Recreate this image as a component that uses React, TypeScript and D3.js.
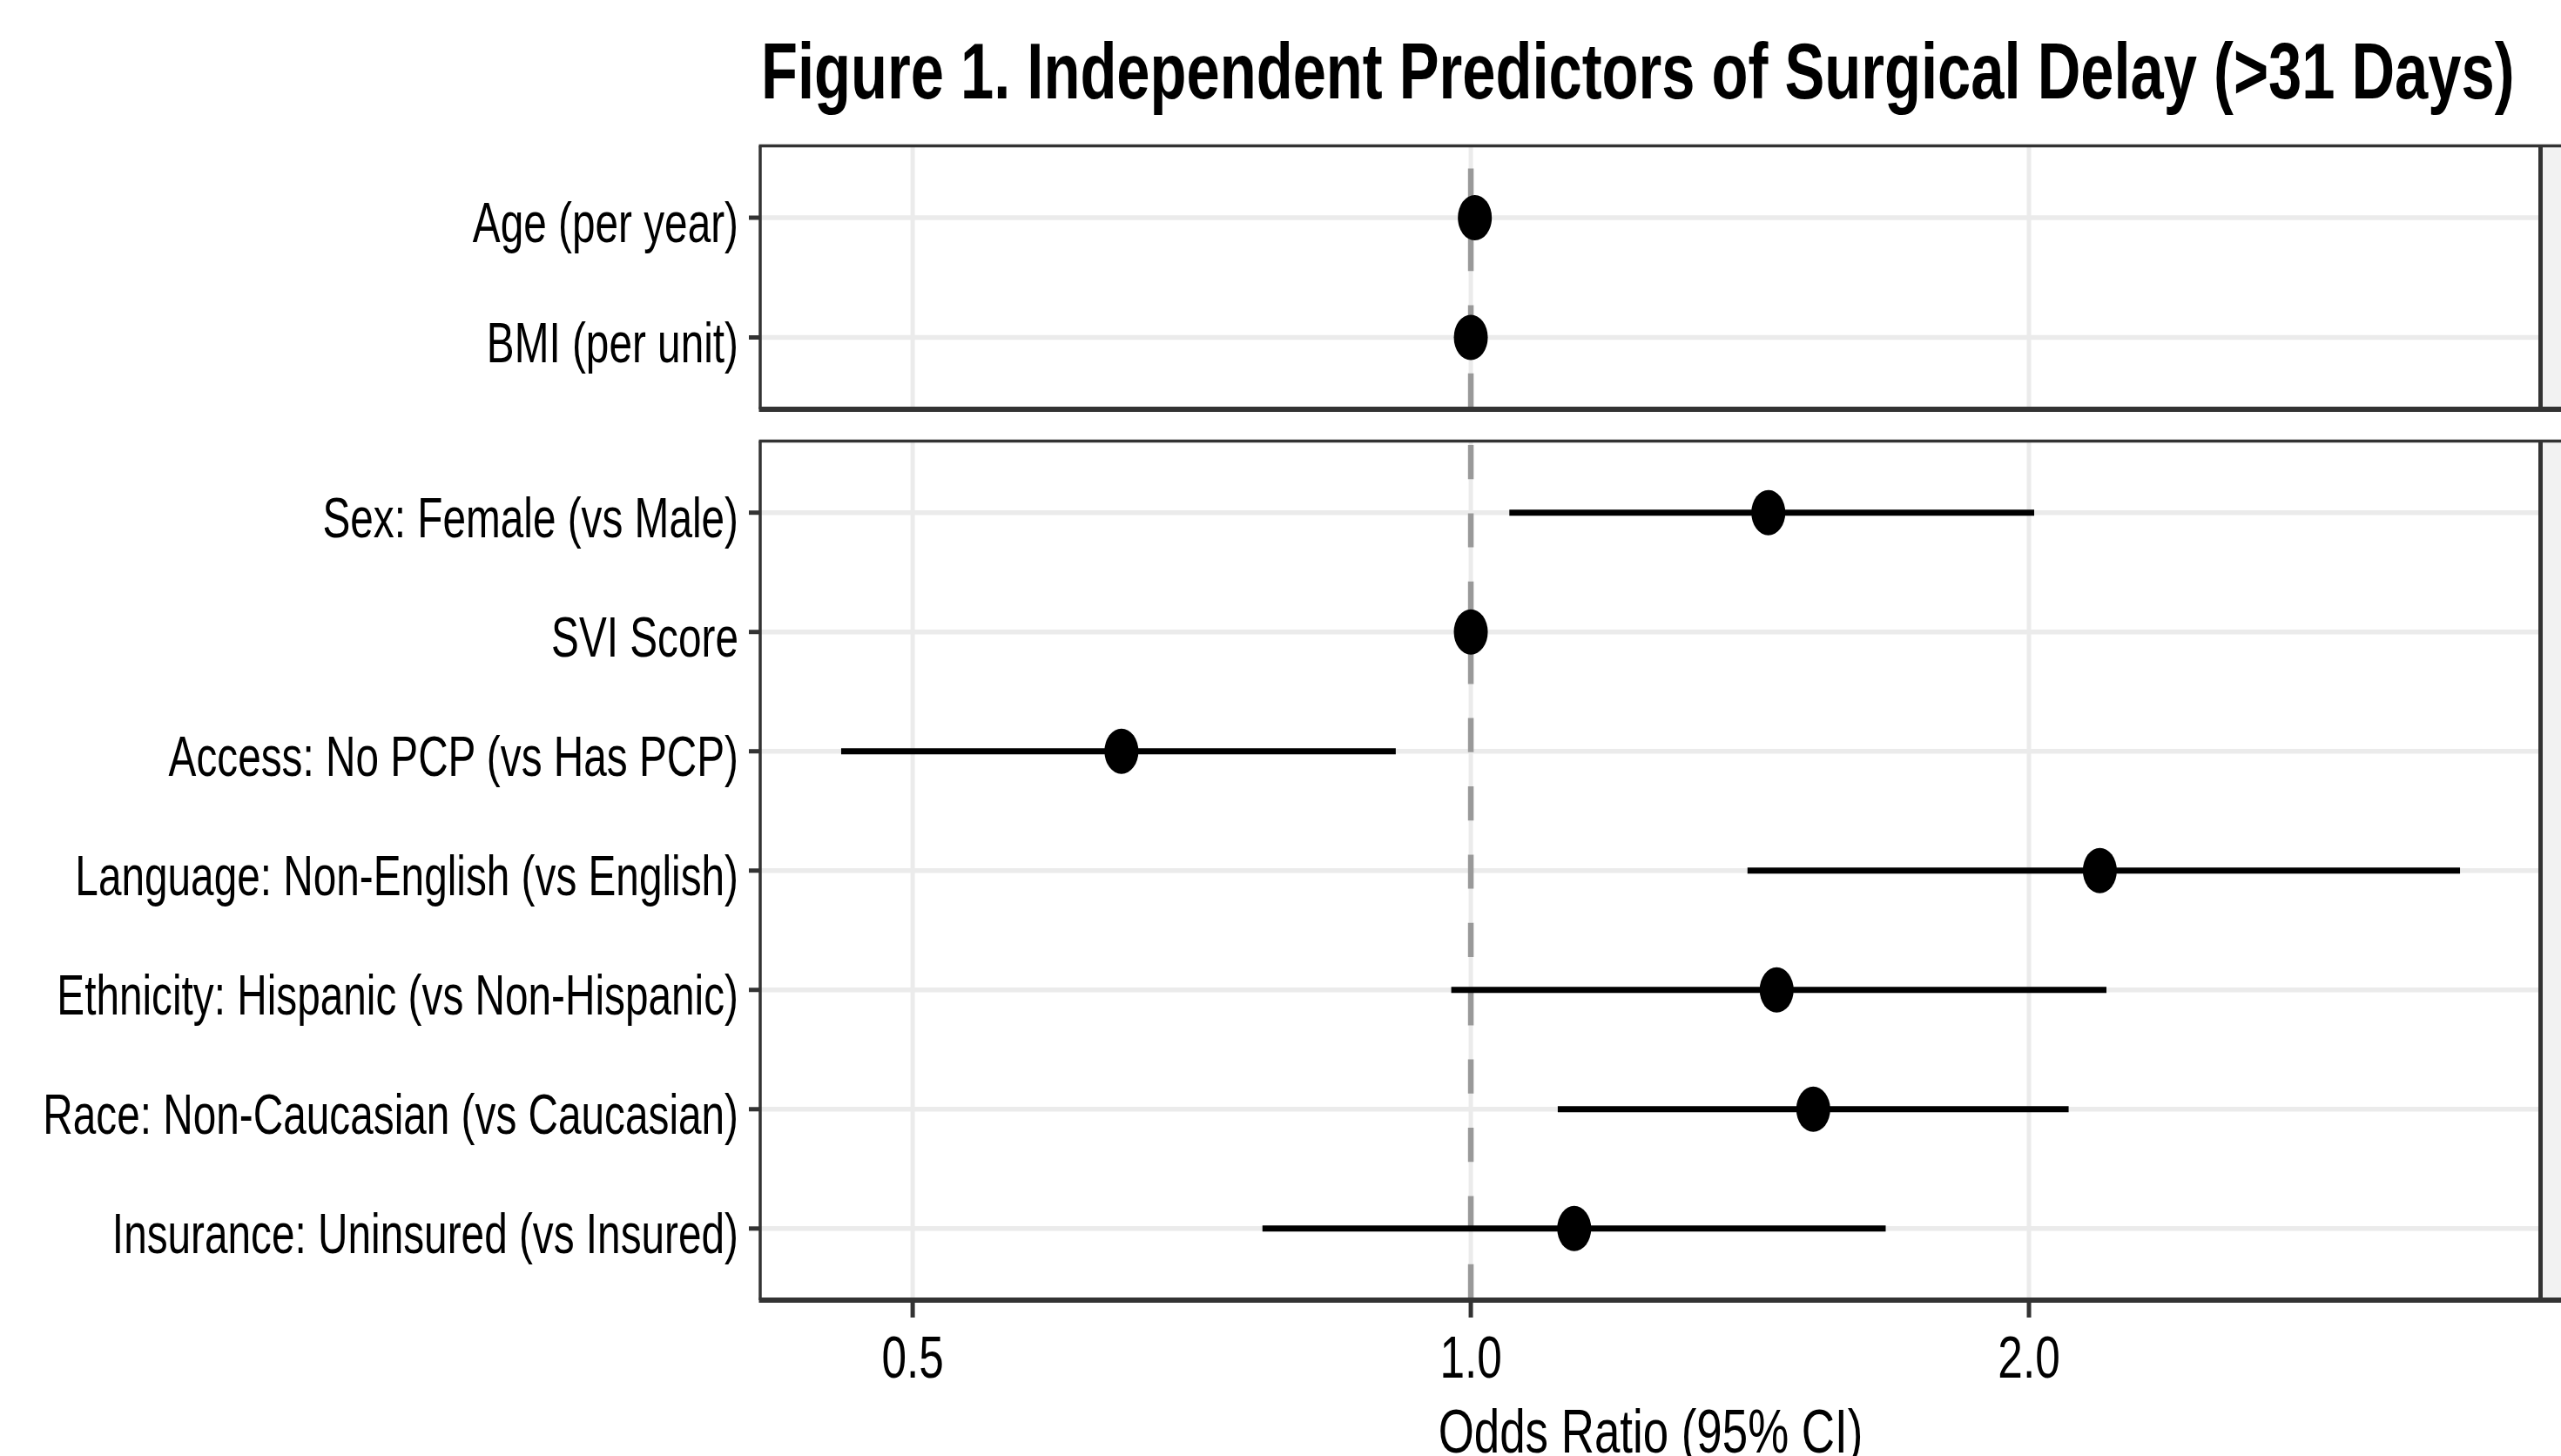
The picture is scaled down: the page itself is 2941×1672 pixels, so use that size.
import React from "react";
import * as d3 from "d3";

// ---- data ----
const panel1Labels = ["Age (per year)", "BMI (per unit)"];
const panel1OR = [1.005, 1.0];
const panel1Lower = [0.995, 0.99];
const panel1Upper = [1.015, 1.01];

const panel2Labels = [
  "Sex: Female (vs Male)",
  "SVI Score",
  "Access: No PCP (vs Has PCP)",
  "Language: Non-English (vs English)",
  "Ethnicity: Hispanic (vs Non-Hispanic)",
  "Race: Non-Caucasian (vs Caucasian)",
  "Insurance: Uninsured (vs Insured)",
];
const panel2OR = [1.447, 1.0, 0.648, 2.184, 1.462, 1.53, 1.137];
const panel2Lower = [1.049, 0.99, 0.4575, 1.41, 0.976, 1.114, 0.772];
const panel2Upper = [2.013, 1.01, 0.911, 3.416, 2.202, 2.101, 1.674];

const xTicks = [0.5, 1.0, 2.0];
const xTickLabels = ["0.5", "1.0", "2.0"];
const titleText = "Figure 1. Independent Predictors of Surgical Delay (>31 Days)";
const xAxisTitle = "Odds Ratio (95% CI)";

const W = 2941;
const H = 1672;
const FONT = "'Liberation Sans', Arial, Helvetica, sans-serif";
const SX = 0.755;
const SX_LABEL = 0.728;

export default function App() {
  const left = 873;
  const right = 2918;

  const allLow = [...panel1Lower, ...panel2Lower];
  const allHigh = [...panel1Upper, ...panel2Upper];
  const lo = Math.log2(d3.min(allLow) as number);
  const hi = Math.log2(d3.max(allHigh) as number);
  const pad = (hi - lo) * 0.05;
  const x = d3
    .scaleLog()
    .base(2)
    .domain([Math.pow(2, lo - pad), Math.pow(2, hi + pad)])
    .range([left, right]);

  const panels = [
    { labels: panel1Labels, or: panel1OR, lower: panel1Lower, upper: panel1Upper, top: 167.5, bottom: 470 },
    { labels: panel2Labels, or: panel2OR, lower: panel2Lower, upper: panel2Upper, top: 506.5, bottom: 1493 },
  ];

  return (
    <svg
      width={W}
      height={H}
      style={{ position: "absolute", left: 0, top: 0, background: "#fff" }}
      fontFamily={FONT}
    >
      <rect x={0} y={0} width={W} height={H} fill="#fff" />
      {/* title */}
      <text
        transform={`translate(874,113) scale(${SX},1)`}
        fontSize={91}
        fontWeight="bold"
        fill="#000"
      >
        {titleText}
      </text>

      {panels.map((p, pi) => {
        const y = d3.scalePoint<string>().domain(p.labels).range([p.top, p.bottom]).padding(0.6);
        return (
          <g key={pi}>
            {/* strip (cut off at right) */}
            <rect x={2920} y={p.top} width={30} height={p.bottom - p.top} fill="#F2F2F2" />
            {/* vertical gridlines */}
            {xTicks.map((t, i) => (
              <line key={i} x1={x(t)} x2={x(t)} y1={p.top} y2={p.bottom} stroke="#EBEBEB" strokeWidth={5} />
            ))}
            {/* horizontal gridlines */}
            {p.labels.map((l) => (
              <line key={l} x1={left} x2={right} y1={y(l)} y2={y(l)} stroke="#EBEBEB" strokeWidth={5.5} />
            ))}
            {/* reference line */}
            <line
              x1={x(1)}
              x2={x(1)}
              y1={p.bottom - 2}
              y2={p.top}
              stroke="#999999"
              strokeWidth={6.5}
              strokeDasharray="39.2 39.2"
            />
            {/* CIs */}
            {p.labels.map((l, i) => (
              <line
                key={"ci" + l}
                x1={x(p.lower[i])}
                x2={x(p.upper[i])}
                y1={y(l)}
                y2={y(l)}
                stroke="#000"
                strokeWidth={7}
              />
            ))}
            {/* points */}
            {p.labels.map((l, i) => (
              <ellipse key={"pt" + l} cx={x(p.or[i])} cy={y(l)} rx={19.5} ry={26} fill="#000" />
            ))}
            {/* borders */}
            <line x1={left - 1.5} x2={W} y1={p.top} y2={p.top} stroke="#333333" strokeWidth={3.5} />
            <line x1={left} x2={left} y1={p.top} y2={p.bottom} stroke="#333333" strokeWidth={3.5} />
            <line x1={2917.5} x2={2917.5} y1={p.top} y2={p.bottom} stroke="#333333" strokeWidth={5} />
            <line x1={left - 1.5} x2={W} y1={p.bottom} y2={p.bottom} stroke="#333333" strokeWidth={6} />
            {/* y ticks and labels */}
            {p.labels.map((l) => (
              <g key={"yl" + l}>
                <line x1={860} x2={left} y1={y(l)} y2={y(l)} stroke="#333333" strokeWidth={5} />
                <text
                  transform={`translate(848,${(y(l) as number) + 28}) scale(${SX_LABEL},1)`}
                  textAnchor="end"
                  fontSize={65.6}
                  fill="#000"
                >
                  {l}
                </text>
              </g>
            ))}
          </g>
        );
      })}

      {/* x axis ticks */}
      {xTicks.map((t, i) => (
        <g key={"xt" + i}>
          <line x1={x(t)} x2={x(t)} y1={1493} y2={1513} stroke="#333333" strokeWidth={5} />
          <text
            transform={`translate(${x(t)},1582) scale(${SX},1)`}
            textAnchor="middle"
            fontSize={68}
            fill="#000"
          >
            {xTickLabels[i]}
          </text>
        </g>
      ))}
      <text
        transform={`translate(${(left + right) / 2},1668) scale(${SX},1)`}
        textAnchor="middle"
        fontSize={70}
        fill="#000"
      >
        {xAxisTitle}
      </text>
    </svg>
  );
}
